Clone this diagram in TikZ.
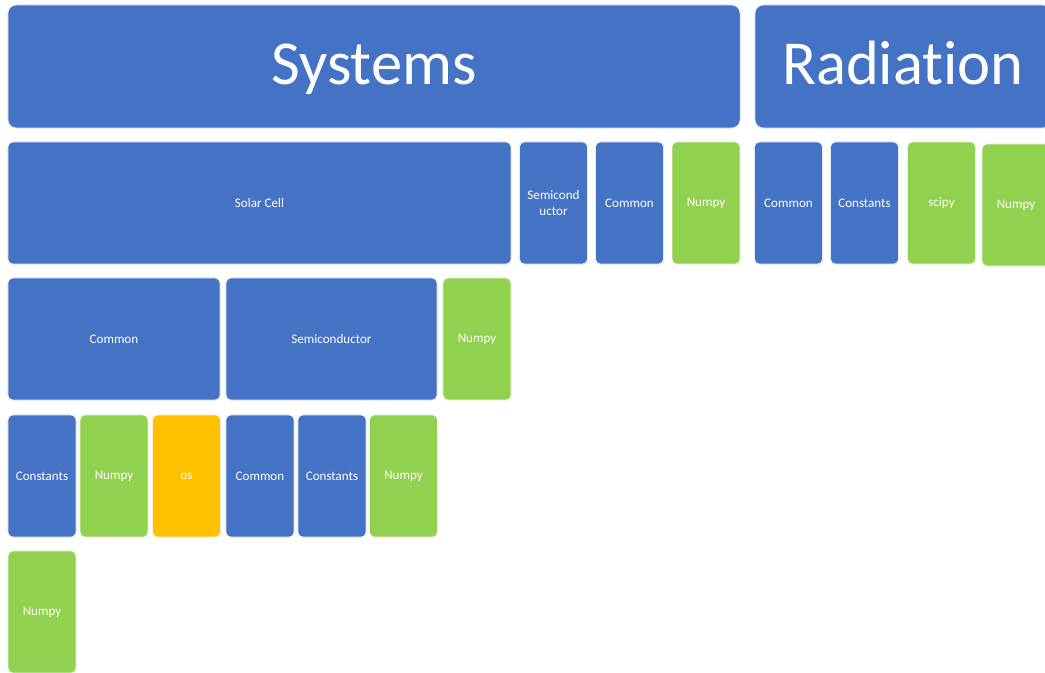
\documentclass[tikz,border=0pt]{standalone}
\usepackage{fontspec}
\setmainfont{Carlito}[Ligatures={NoCommon,NoDiscretionary}]
\usepackage{xcolor}
\usepackage{tikz}
\usetikzlibrary{positioning}

\definecolor{modblue}{HTML}{4472C4}
\definecolor{libgreen}{HTML}{92D050}
\definecolor{sysorange}{HTML}{FFC000}

\begin{document}
\begin{tikzpicture}[
  x=0.025cm, y=-0.025cm,
  head/.style={draw=white!85!modblue, line width=0.5pt, fill=modblue, text=white, rounded corners=6pt,
    minimum height=3.075cm, inner sep=0pt, text height=31pt, text depth=5pt,
    font=\fontsize{44.5}{50}\selectfont},
  cell/.style={draw=white!85!modblue, line width=0.5pt, fill=modblue, text=white, rounded corners=3.5pt,
    minimum height=3.05cm, minimum width=1.7cm, inner sep=0pt, align=center,
    font=\fontsize{9.3}{11}\selectfont},
  lib/.style={cell, fill=libgreen, draw=white!80!libgreen},
  sys/.style={cell, fill=sysorange, draw=white!80!sysorange}
]
\useasboundingbox (0,0) rectangle (1045,672);

% row heights
\def\yA{66.5}
\def\yB{203}
\def\yC{339}
\def\yD{476}
\def\yE{612}

% top level packages
\node[head, minimum width=18.3cm] (systems) at (374, \yA) {Systems};
\node[head, minimum width=7.4cm] (radiation) at (903, \yA) {Radiation};

% modules under Systems and Radiation
\node[cell, minimum width=12.575cm] (solarcell) at (259.5, \yB) {Solar Cell};
\node[cell] (semiA) at (553.5, \yB) {Semicond\\uctor};
\node[cell] (commonA) at (629.5, \yB) {Common};
\node[lib] (numpyA) at (706, \yB) {Numpy};
\node[cell] (commonB) at (788.5, \yB) {Common};
\node[cell] (constA) at (864.5, \yB) {Constants};
\node[lib] (scipyA) at (941.5, \yB) {scipy};
\node[lib] (numpyB) at (1016, 205) {Numpy};

% imports of Solar Cell
\node[cell, minimum width=5.3cm] (commonC) at (114, \yC) {Common};
\node[cell, minimum width=5.275cm] (semiB) at (331.5, \yC) {Semiconductor};
\node[lib] (numpyC) at (477, \yC) {Numpy};

% imports of Common and Semiconductor
\node[cell] (constB) at (42, \yD) {Constants};
\node[lib] (numpyD) at (114, \yD) {Numpy};
\node[sys] (osA) at (186.5, \yD) {os};
\node[cell] (commonD) at (260, \yD) {Common};
\node[cell] (constC) at (332, \yD) {Constants};
\node[lib] (numpyE) at (403.5, \yD) {Numpy};

% imports of Constants
\node[lib] (numpyF) at (42, \yE) {Numpy};

\end{tikzpicture}
\end{document}
